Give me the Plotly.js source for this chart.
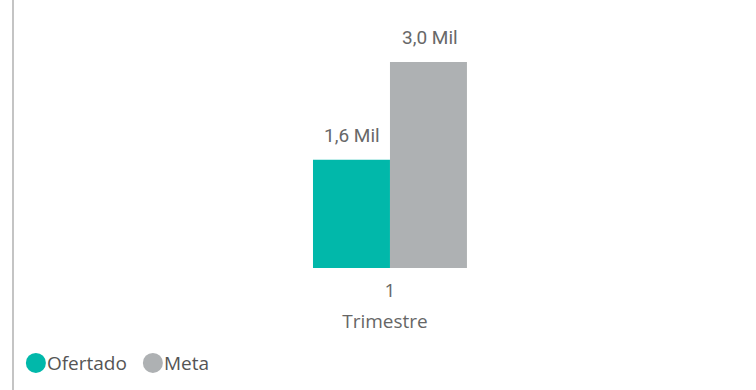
<!DOCTYPE html>
<html><head><meta charset="utf-8">
<script src="https://cdn.plot.ly/plotly-3.0.1.min.js"></script>
<style>
html,body{margin:0;padding:0;background:#fff;}
#chart{width:756px;height:390px;position:relative;}
#edge{position:absolute;left:12px;top:0;width:2px;height:390px;background:#c4c4c4;z-index:10;}
</style></head>
<body>
<div id="edge"></div>
<div id="chart"></div>
<script>
const categories = ['1'];
const seriesNames = ['Ofertado', 'Meta'];
const ofertado = [1575];
const meta = [3000];
const colors = ['#01B8AA', '#AEB1B3'];

function fmt(v){ return (v/1000).toFixed(1).replace('.', ',') + ' Mil'; }

const seriesVals = [ofertado, meta];
const traces = [];
seriesVals.forEach((vals, i) => {
  traces.push({
    type: 'bar', x: categories, y: vals, name: seriesNames[i],
    marker: {color: colors[i]}, showlegend: false, hoverinfo: 'none'
  });
});
seriesVals.forEach((vals, i) => {
  traces.push({
    type: 'scatter', mode: 'markers', x: [null], y: [null], name: seriesNames[i],
    marker: {color: colors[i], size: 20, symbol: 'circle'}, hoverinfo: 'none'
  });
});

const annotations = [];
seriesVals.forEach((vals, i) => {
  vals.forEach((v, j) => {
    annotations.push({
      x: j, y: v, xref: 'x', yref: 'y', text: fmt(v), showarrow: false,
      yanchor: 'bottom', yshift: 11, xshift: (i === 0 ? -38 : 40),
      font: {family: 'Roboto', size: 19, color: '#686868'}
    });
  });
});

const layout = {
  width: 756, height: 390,
  margin: {l: 14, r: 0, t: 30, b: 122},
  paper_bgcolor: '#fff', plot_bgcolor: '#fff',
  barmode: 'group', bargap: 0.7925, bargroupgap: 0,
  xaxis: {
    type: 'category', range: [-0.5067, 0.4933], showgrid: false, zeroline: false, showline: false,
    ticks: '', tickfont: {family: 'Open Sans, sans-serif', size: 19, color: '#666'},
    ticklabelstandoff: 9,
    title: {text: 'Trimestre', standoff: 12, font: {family: 'Open Sans, sans-serif', size: 19, color: '#666'}}
  },
  yaxis: {range: [0, 3466], visible: false, showgrid: false, zeroline: false},
  showlegend: true,
  legend: {
    orientation: 'h', xref: 'container', yref: 'container', x: 0.021, y: 0.069,
    xanchor: 'left', yanchor: 'middle', itemsizing: 'trace',
    font: {family: 'Open Sans, sans-serif', size: 19, color: '#555'},
    entrywidth: 72, tracegroupgap: 0
  },
  annotations: annotations,
  font: {family: 'Open Sans, sans-serif'}
};

Plotly.newPlot('chart', traces, layout, {displayModeBar: false, staticPlot: true}).then(() => {
  document.querySelectorAll('.legendtext').forEach(t => t.setAttribute('x', 31));
  document.querySelectorAll('.legendpoints path').forEach(p => {
    const tr = p.getAttribute('transform') || '';
    p.setAttribute('transform', tr + ' scale(1.25)');
  });
});
</script>
</body></html>
